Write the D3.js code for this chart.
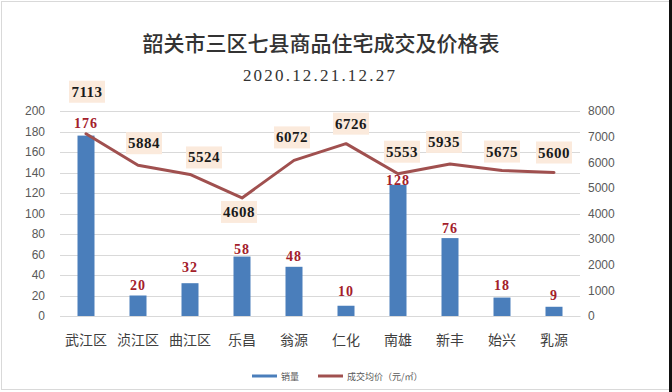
<!DOCTYPE html>
<html><head><meta charset="utf-8">
<script src="https://cdn.jsdelivr.net/npm/d3@7"></script>
<style>html,body{margin:0;padding:0;background:#fff;}svg{display:block;}</style>
</head><body>
<svg id="c" width="672" height="392"></svg>
<script>
const categories = ["武江区","浈江区","曲江区","乐昌","翁源","仁化","南雄","新丰","始兴","乳源"];
const sales = [176,20,32,58,48,10,128,76,18,9];
const prices = [7113,5884,5524,4608,6072,6726,5553,5935,5675,5600];
const leftTicks = [0,20,40,60,80,100,120,140,160,180,200];
const rightTicks = [0,1000,2000,3000,4000,5000,6000,7000,8000];
const title = "韶关市三区七县商品住宅成交及价格表";
const subtitle = "2020.12.21.12.27";
const legendLabels = ["销量","成交均价（元/㎡）"];
// label placement offsets (styling)
const priceLabelOffset = [[1,-42],[6,-22],[14,-17],[-3,14],[-2,-23],[5,-20],[4,-22],[-6,-22],[0,-19],[0,-20]];
const salesLabelOffset = [-12,-10,-16,-7,-10,-14,-4,-10,-12,-11];

const svg = d3.select("#c");
svg.append("rect").attr("x",1.5).attr("y",1.5).attr("width",668).attr("height",388)
  .attr("fill","#fff").attr("stroke","#d9d9d9");
svg.append("rect").attr("x",669).attr("y",0).attr("width",3).attr("height",392).attr("fill","#111");

const L=60,R=580,T=111,B=316;
const x = d3.scaleBand().domain(categories).range([L,R]).padding(0);
const yL = d3.scaleLinear().domain([0,200]).range([B,T]);
const yR = d3.scaleLinear().domain([0,8000]).range([B,T]);

// grid
svg.append("g").selectAll("line").data(leftTicks).join("line")
  .attr("x1",L).attr("x2",R).attr("y1",d=>Math.round(yL(d))+0.5).attr("y2",d=>Math.round(yL(d))+0.5)
  .attr("stroke","#d9d9d9").attr("stroke-width",1);

// left axis
const axL = svg.append("g").attr("transform",`translate(${L},0)`)
  .call(d3.axisLeft(yL).tickValues(leftTicks).tickSize(0).tickPadding(15));
axL.select(".domain").remove();
axL.selectAll("text").attr("font-family","Liberation Sans, Arial, sans-serif").attr("font-size",12).attr("fill","#595959");

const axR = svg.append("g").attr("transform",`translate(${R},0)`)
  .call(d3.axisRight(yR).tickValues(rightTicks).tickFormat(d3.format("d")).tickSize(0).tickPadding(8));
axR.select(".domain").remove();
axR.selectAll("text").attr("font-family","Liberation Sans, Arial, sans-serif").attr("font-size",12).attr("fill","#595959");

const axB = svg.append("g").attr("transform",`translate(0,${B})`)
  .call(d3.axisBottom(x).tickSize(0).tickPadding(19));
axB.select(".domain").attr("stroke","#d9d9d9");
axB.selectAll("text").attr("font-family","Noto Sans CJK SC, sans-serif").attr("font-size",14).attr("fill","#404040");

// bars
const bw = 17;
svg.append("g").selectAll("rect").data(sales).join("rect")
  .attr("x",(d,i)=>x(categories[i])+x.bandwidth()/2-bw/2)
  .attr("width",bw)
  .attr("y",d=>yL(d)).attr("height",d=>B-yL(d))
  .attr("fill","#4a7ebb");

// line
const line = d3.line().x((d,i)=>x(categories[i])+x.bandwidth()/2).y(d=>yR(d));
svg.append("path").datum(prices).attr("d",line).attr("fill","none")
  .attr("stroke","#a0504f").attr("stroke-width",3).attr("stroke-linejoin","round").attr("stroke-linecap","round");

// sales labels
svg.append("g").selectAll("text").data(sales).join("text")
  .attr("x",(d,i)=>x(categories[i])+x.bandwidth()/2)
  .attr("y",(d,i)=>yL(d)+salesLabelOffset[i])
  .attr("text-anchor","middle").attr("dominant-baseline","central")
  .attr("font-family","Liberation Serif, serif").attr("font-weight","bold").attr("font-size",14)
  .attr("letter-spacing",1).attr("fill","#a3202a").text(d=>d);

// price labels
const pg = svg.append("g").selectAll("g").data(prices).join("g")
  .attr("transform",(d,i)=>`translate(${x(categories[i])+x.bandwidth()/2+priceLabelOffset[i][0]},${yR(d)+priceLabelOffset[i][1]})`);
pg.append("rect").attr("x",-18).attr("y",-11).attr("width",36).attr("height",22).attr("fill","#fbeadc");
pg.append("text").attr("text-anchor","middle").attr("dominant-baseline","central")
  .attr("font-family","Liberation Serif, serif").attr("font-weight","bold").attr("font-size",15)
  .attr("letter-spacing",0.5).attr("fill","#1a1a1a").text(d=>d);

// titles
svg.append("text").attr("x",321).attr("y",51).attr("text-anchor","middle")
  .attr("font-family","Noto Sans CJK SC, sans-serif").attr("font-size",21).attr("font-weight",500).attr("fill","#333").text(title);
svg.append("text").attr("x",320).attr("y",81).attr("text-anchor","middle")
  .attr("font-family","Liberation Serif, serif").attr("font-size",17).attr("letter-spacing",2.2).attr("fill","#333").text(subtitle);

// legend
const lg = svg.append("g").attr("font-family","Noto Sans CJK SC, sans-serif").attr("font-size",9).attr("fill","#595959");
lg.append("line").attr("x1",252).attr("x2",277).attr("y1",376).attr("y2",376).attr("stroke","#4a7ebb").attr("stroke-width",3);
lg.append("text").attr("x",281).attr("y",376).attr("dominant-baseline","central").text(legendLabels[0]);
lg.append("line").attr("x1",318).attr("x2",343).attr("y1",376).attr("y2",376).attr("stroke","#a0504f").attr("stroke-width",3);
lg.append("text").attr("x",347).attr("y",376).attr("dominant-baseline","central").text(legendLabels[1]);
</script>
</body></html>
